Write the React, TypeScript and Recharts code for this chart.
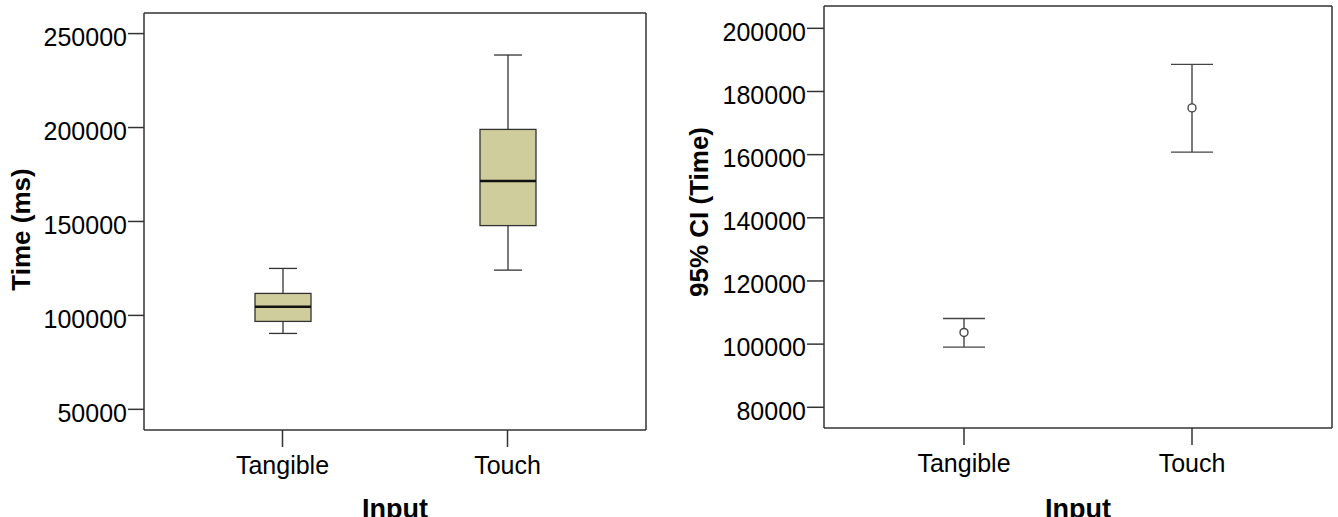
import React from "react";
import { ComposedChart, Bar, XAxis, YAxis } from "recharts";

// Values (ms).
const INPUTS = ["Tangible", "Touch"];

const BOX_MIN = [90400, 124100];
const BOX_Q1 = [96800, 147800];
const BOX_MEDIAN = [104600, 171500];
const BOX_Q3 = [111700, 199000];
const BOX_MAX = [125000, 238600];

const CI_LOWER = [99050, 160800];
const CI_MEAN = [103700, 174800];
const CI_UPPER = [108100, 188600];

const TIME_TICKS = [50000, 100000, 150000, 200000, 250000];
const CI_TICKS = [80000, 100000, 120000, 140000, 160000, 180000, 200000];

const boxData = INPUTS.map((name, i) => ({
  name,
  range: [BOX_MIN[i], BOX_MAX[i]],
  min: BOX_MIN[i],
  q1: BOX_Q1[i],
  median: BOX_MEDIAN[i],
  q3: BOX_Q3[i],
  max: BOX_MAX[i],
}));

const ciData = INPUTS.map((name, i) => ({
  name,
  ci: [CI_LOWER[i], CI_UPPER[i]],
  lower: CI_LOWER[i],
  mean: CI_MEAN[i],
  upper: CI_UPPER[i],
}));

const FONT = "'Liberation Sans', Arial, sans-serif";
const LINE = "#333";
const BOX_FILL = "#cfcd9c";

// maps a value into the pixel span the bar got from the y scale
function spanY(top: number, h: number, hi: number, lo: number, v: number) {
  return top + ((hi - v) / (hi - lo)) * h;
}

function BoxShape(props: any) {
  const { x, y, width, height, payload } = props;
  const top = Math.min(y, y + height);
  const h = Math.abs(height);
  const p = payload;
  const at = (v: number) => spanY(top, h, p.max, p.min, v);
  const cx = x + width / 2;
  const cap = 14;
  return (
    <g>
      <line x1={cx} x2={cx} y1={at(p.max)} y2={at(p.q3)} stroke={LINE} strokeWidth={1.3} />
      <line x1={cx} x2={cx} y1={at(p.q1)} y2={at(p.min)} stroke={LINE} strokeWidth={1.3} />
      <line x1={cx - cap} x2={cx + cap} y1={at(p.max)} y2={at(p.max)} stroke={LINE} strokeWidth={1.3} />
      <line x1={cx - cap} x2={cx + cap} y1={at(p.min)} y2={at(p.min)} stroke={LINE} strokeWidth={1.3} />
      <rect
        x={x}
        y={at(p.q3)}
        width={width}
        height={at(p.q1) - at(p.q3)}
        fill={BOX_FILL}
        stroke={LINE}
        strokeWidth={1.3}
      />
      <line x1={x} x2={x + width} y1={at(p.median)} y2={at(p.median)} stroke="#111" strokeWidth={2.6} />
    </g>
  );
}

function CiShape(props: any) {
  const { x, y, width, height, payload } = props;
  const top = Math.min(y, y + height);
  const h = Math.abs(height);
  const p = payload;
  const at = (v: number) => spanY(top, h, p.upper, p.lower, v);
  const cx = x + width / 2;
  const my = at(p.mean);
  return (
    <g stroke="#444" strokeWidth={1.4} fill="none">
      <line x1={cx} x2={cx} y1={at(p.upper)} y2={my - 4} />
      <line x1={cx} x2={cx} y1={my + 4} y2={at(p.lower)} />
      <line x1={x} x2={x + width} y1={at(p.upper)} y2={at(p.upper)} />
      <line x1={x} x2={x + width} y1={at(p.lower)} y2={at(p.lower)} />
      <circle cx={cx} cy={my} r={4} fill="#fff" />
    </g>
  );
}

const yTitle = (text: string, baselineX: number, shiftY: number) => (props: any) => {
  const vb = props.viewBox || { x: 0, y: 0, width: 0, height: 0 };
  const cy = vb.y + vb.height / 2 + shiftY;
  return (
    <text
      x={baselineX}
      y={cy}
      transform={`rotate(-90, ${baselineX}, ${cy})`}
      textAnchor="middle"
      fontFamily={FONT}
      fontWeight="bold"
      fontSize={26}
      fill="#000"
    >
      {text}
    </text>
  );
};

const xTitle = (props: any) => {
  const vb = props.viewBox || { x: 0, y: 0, width: 0, height: 0 };
  return (
    <text
      x={vb.x + vb.width / 2}
      y={vb.y + vb.height + 1}
      textAnchor="middle"
      fontFamily={FONT}
      fontWeight="bold"
      fontSize={27}
      fill="#000"
    >
      Input
    </text>
  );
};

const tickStyle = { fontSize: 25, fill: "#000", fontFamily: FONT };

function TimeBoxPlot() {
  return (
    <ComposedChart
      width={670}
      height={517}
      data={boxData}
      margin={{ top: 12, right: 23, bottom: 0, left: 0 }}
    >
      <XAxis
        dataKey="name"
        height={87}
        interval={0}
        padding={{ left: 26, right: 26 }}
        tickSize={17}
        tickMargin={9}
        tick={tickStyle}
        stroke={LINE}
        strokeWidth={1.5}
        label={{ content: xTitle }}
      />
      <XAxis xAxisId="top" dataKey="name" orientation="top" height={1} tick={false} tickLine={false} stroke={LINE} strokeWidth={1.5} />
      <YAxis
        width={144}
        domain={[39000, 260960]}
        allowDataOverflow
        ticks={TIME_TICKS}
        interval={0}
        tickSize={16}
        tickMargin={1}
        tick={{ ...tickStyle, dy: 3.5 }}
        stroke={LINE}
        strokeWidth={1.5}
        label={{ content: yTitle("Time (ms)", 29.5, 8) }}
      />
      <YAxis yAxisId="right" orientation="right" width={1} domain={[0, 1]} tick={false} tickLine={false} stroke={LINE} strokeWidth={1.5} />
      <Bar dataKey="range" barSize={56} shape={BoxShape} isAnimationActive={false} />
    </ComposedChart>
  );
}

function TimeCiPlot() {
  return (
    <ComposedChart
      width={668}
      height={517}
      data={ciData}
      margin={{ top: 5, right: 5, bottom: 0, left: 0 }}
    >
      <XAxis
        dataKey="name"
        height={89}
        interval={0}
        padding={{ left: 26, right: 26 }}
        tickSize={17}
        tickMargin={9}
        tick={tickStyle}
        stroke={LINE}
        strokeWidth={1.5}
        label={{ content: xTitle }}
      />
      <XAxis xAxisId="top" dataKey="name" orientation="top" height={1} tick={false} tickLine={false} stroke={LINE} strokeWidth={1.5} />
      <YAxis
        width={154}
        domain={[73440, 207070]}
        allowDataOverflow
        ticks={CI_TICKS}
        interval={0}
        tickSize={17}
        tickMargin={1}
        tick={{ ...tickStyle, dy: 3.5 }}
        stroke={LINE}
        strokeWidth={1.5}
        label={{ content: yTitle("95% CI (Time)", 38, -5) }}
      />
      <YAxis yAxisId="right" orientation="right" width={1} domain={[0, 1]} tick={false} tickLine={false} stroke={LINE} strokeWidth={1.5} />
      <Bar dataKey="ci" barSize={42} shape={CiShape} isAnimationActive={false} />
    </ComposedChart>
  );
}

export default function App() {
  return (
    <div style={{ position: "absolute", left: 0, top: 0, width: 1338, height: 517, background: "#fff" }}>
      <div style={{ position: "absolute", left: 0, top: 0 }}>
        <TimeBoxPlot />
      </div>
      <div style={{ position: "absolute", left: 670, top: 0 }}>
        <TimeCiPlot />
      </div>
    </div>
  );
}
